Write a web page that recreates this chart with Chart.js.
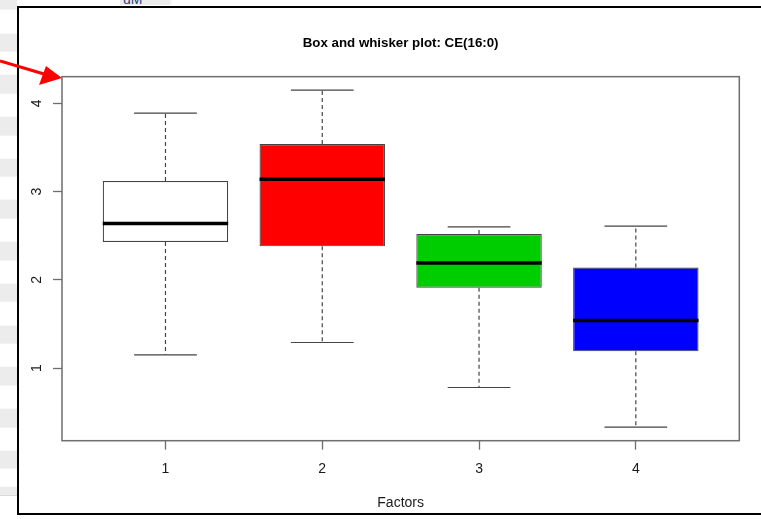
<!DOCTYPE html>
<html>
<head>
<meta charset="utf-8">
<title>Box and whisker plot: CE(16:0)</title>
<script src="https://cdn.jsdelivr.net/npm/chart.js@4.4.1/dist/chart.umd.min.js"></script>
<style>
  html, body { margin: 0; padding: 0; width: 761px; height: 519px; overflow: hidden; background: #fff; }
  .abs { position: absolute; }
  /* spreadsheet rows peeking out on the left */
  #rows { left: 0; top: 0; width: 17px; height: 495px; border-bottom: 1px solid #dadada;
    background: repeating-linear-gradient(to bottom, #ececec 0px, #ececec 18.5px, #fff 18.5px, #fff 41.7px);
    background-position: 0 -8.3px; }
  #cell { left: 120px; top: 0; width: 50px; height: 5px; background: #ececec; overflow: hidden; border-right: 2px solid #f7f7f7; }
  #cell span { position: absolute; left: 3px; top: -9px; font: 14px "Liberation Sans", Arial, sans-serif; color: #25407a; }
  #frameTop { left: 17px; top: 6px; width: 744px; height: 2px; background: #000; }
  #frameLeft { left: 17px; top: 6px; width: 2px; height: 509px; background: #000; }
  #frameBottom { left: 17px; top: 513px; width: 744px; height: 2px; background: #000; }
  #chart { left: 0; top: 0; }
  #arrow { left: 0; top: 0; }
</style>
</head>
<body>
<div id="rows" class="abs"></div>
<div id="cell" class="abs"><span>uM</span></div>
<div id="frameTop" class="abs"></div>
<div id="frameLeft" class="abs"></div>
<div id="frameBottom" class="abs"></div>
<canvas id="chart" class="abs" width="761" height="519"></canvas>
<svg id="arrow" class="abs" width="80" height="100">
  <line x1="0" y1="61" x2="44" y2="74" stroke="#f00" stroke-width="3"/>
  <polygon points="62,78 39,85 46,66" fill="#f00"/>
</svg>
<script>
// groups on the x axis
var cats = [1, 2, 3, 4];
// five-number summaries
var lowerWhisker = [1.15, 1.29, 0.78, 0.33];
var q1 = [2.43, 2.38, 1.91, 1.19];
var median = [2.64, 3.14, 2.19, 1.54];
var q3 = [3.12, 3.54, 2.52, 2.14];
var upperWhisker = [3.89, 4.15, 2.60, 2.61];
var yTicks = [1, 2, 3, 4];
var boxColors = ['#ffffff', '#ff0000', '#00cd00', '#0000ff'];

var FONT = '"Liberation Sans", Arial, sans-serif';
var INK = '#444444';
var BOX_HALF = 0.4;     // R default box width 0.8
var STAPLE_HALF = 0.2;  // staplewex 0.5

// R pads the axis range by 4% on each side
var lo = Math.min.apply(null, lowerWhisker), hi = Math.max.apply(null, upperWhisker);
var yPad = (hi - lo) * 0.04;
var xPad = (cats.length) * 0.04;

// build segment lists, null y breaks the line
function segments(fn) {
    var out = [];
    cats.forEach(function (c, i) {
        fn(c, i).forEach(function (s) {
            out.push({x: s[0], y: s[1]}, {x: s[2], y: s[3]}, {x: c, y: null});
        });
    });
    return out;
}

var whiskers = segments(function (c, i) {
    return [[c, q3[i], c, upperWhisker[i]], [c, q1[i], c, lowerWhisker[i]]];
});
var staples = segments(function (c, i) {
    return [[c - STAPLE_HALF, upperWhisker[i], c + STAPLE_HALF, upperWhisker[i]],
            [c - STAPLE_HALF, lowerWhisker[i], c + STAPLE_HALF, lowerWhisker[i]]];
});
var medians = segments(function (c, i) {
    return [[c - BOX_HALF, median[i], c + BOX_HALF, median[i]]];
});

// draws the box round the plot region
var plotFrame = {
    id: 'plotFrame',
    afterDatasetsDraw: function (chart, args, opts) {
        var a = chart.chartArea, ctx = chart.ctx;
        ctx.save();
        ctx.strokeStyle = opts.color;
        ctx.lineWidth = opts.width;
        ctx.strokeRect(a.left, a.top, a.right - a.left, a.bottom - a.top);
        ctx.restore();
    }
};

new Chart(document.getElementById('chart'), {
    type: 'bar',
    data: {
        datasets: [
            {
                type: 'line', data: medians, order: 0,
                borderColor: '#000', borderWidth: 3.5, borderCapStyle: 'butt',
                pointRadius: 0, fill: false, spanGaps: false
            },
            {
                type: 'line', data: staples, order: 1,
                borderColor: INK, borderWidth: 1.2,
                pointRadius: 0, fill: false, spanGaps: false
            },
            {
                type: 'bar', order: 2,
                data: cats.map(function (c, i) { return {x: c, y: [q1[i], q3[i]]}; }),
                backgroundColor: boxColors, borderColor: INK, borderWidth: 1.2,
                borderSkipped: false, barPercentage: BOX_HALF * 2, categoryPercentage: 1
            },
            {
                type: 'line', data: whiskers, order: 3,
                borderColor: INK, borderWidth: 1.2, borderDash: [4, 3],
                pointRadius: 0, fill: false, spanGaps: false
            }
        ]
    },
    options: {
        responsive: false,
        animation: false,
        devicePixelRatio: 1,
        layout: { padding: { left: 0, right: 21.7, top: 0, bottom: 0 } },
        scales: {
            x: {
                type: 'linear', offset: false,
                min: cats[0] - 0.5 - xPad, max: cats[cats.length - 1] + 0.5 + xPad,
                afterBuildTicks: function (s) { s.ticks = cats.map(function (v) { return {value: v}; }); },
                afterFit: function (s) { s.height = 78.3; },
                grid: { offset: false, drawOnChartArea: false, drawTicks: true, tickLength: 9, tickColor: '#6e6e6e', tickWidth: 1.3 },
                border: { display: false },
                ticks: { color: '#1a1a1a', font: { family: FONT, size: 14 }, padding: 11.5, autoSkip: false, maxRotation: 0 },
                title: { display: true, text: 'Factors', color: '#1a1a1a', font: { family: FONT, size: 14 }, padding: { top: 0, bottom: 7 } }
            },
            y: {
                type: 'linear', beginAtZero: false,
                min: lo - yPad, max: hi + yPad,
                afterBuildTicks: function (s) { s.ticks = yTicks.map(function (v) { return {value: v}; }); },
                afterFit: function (s) { s.width = 62; },
                grid: { drawOnChartArea: false, drawTicks: true, tickLength: 9, tickColor: '#6e6e6e', tickWidth: 1.3 },
                border: { display: false },
                ticks: { color: '#1a1a1a', font: { family: FONT, size: 14 }, padding: 12, minRotation: 90, maxRotation: 90, crossAlign: 'center' }
            }
        },
        plugins: {
            legend: { display: false },
            tooltip: { enabled: false },
            title: {
                display: true, fullSize: false, text: 'Box and whisker plot: CE(16:0)',
                color: '#000', font: { family: FONT, size: 13.3, weight: 'bold' },
                padding: { top: 35, bottom: 25.7 }
            },
            plotFrame: { color: '#6e6e6e', width: 1.5 }
        }
    },
    plugins: [plotFrame]
});
</script>
</body>
</html>
